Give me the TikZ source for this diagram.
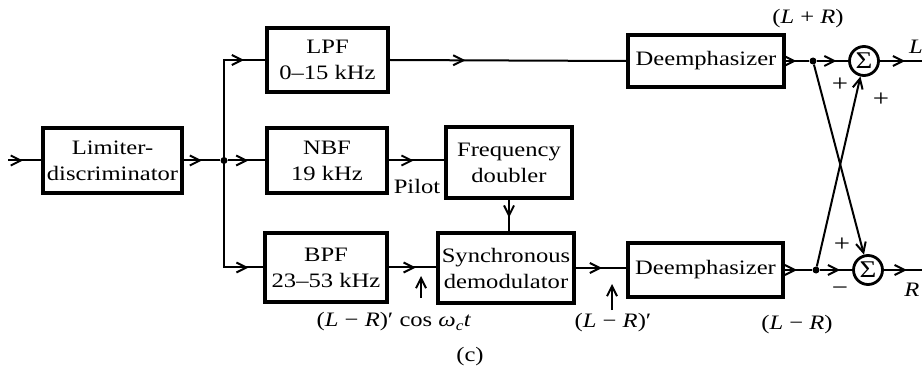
\documentclass[tikz,border=0pt]{standalone}
\usepackage{fontspec}
\setmainfont[FakeStretch=1.2]{Liberation Serif}
\usetikzlibrary{arrows.meta,decorations.markings}
\tikzset{
  blk/.style={draw, line width=3.4pt, align=center, inner sep=0pt,
    font=\fontsize{20.5}{26}\selectfont},
  sig/.style={draw, circle, line width=2.8pt, minimum size=29pt, inner sep=0pt,
    font=\fontsize{24}{26}\selectfont},
  jdot/.style={circle, fill, minimum size=7pt, inner sep=0pt},
  con/.style={line width=2pt},
  ar/.style={postaction={decorate, decoration={markings,
    mark=at position #1 with {\arrow{Straight Barb[length=10pt,width=10pt,line width=2pt]}}}}},
  lbl/.style={font=\fontsize{20.5}{23}\selectfont, inner sep=0pt},
  sgn/.style={font=\fontsize{24}{24}\selectfont, inner sep=0pt},
  endar/.style={-{Straight Barb[length=10pt,width=10pt,line width=2pt]}}
}
\begin{document}
\begin{tikzpicture}[x=1pt,y=-1pt]
\useasboundingbox (0,0) rectangle (923,371);
% blocks
\node[blk, minimum width=139pt, minimum height=65pt] (lim) at (112.5,160.5) {Limiter-\\discriminator};
\node[blk, minimum width=121pt, minimum height=64pt] (lpf) at (327.5,60) {LPF\\0–15 kHz};
\node[blk, minimum width=120pt, minimum height=65pt] (nbf) at (327,160.5) {NBF\\19 kHz};
\node[blk, minimum width=122pt, minimum height=69pt] (bpf) at (326,267.5) {BPF\\23–53 kHz};
\node[blk, minimum width=126pt, minimum height=71pt] (fd) at (509,162.5) {Frequency\\doubler};
\node[blk, minimum width=136pt, minimum height=70pt] (syn) at (506,268) {Synchronous\\demodulator};
\node[blk, minimum width=156pt, minimum height=52pt] (de1) at (706,61) {Deemphasizer};
\node[blk, minimum width=155pt, minimum height=54pt] (de2) at (705.5,270) {Deemphasizer};
\node[sig] (s1) at (864,61) {Σ};
\node[sig] (s2) at (868,270) {Σ};
\node[jdot] (j) at (224,160.5) {};
\node[jdot] (d1) at (813,61) {};
\node[jdot] (d2) at (816,270) {};
\coordinate (in) at (8,160.5);
\coordinate (lo) at (922,61);
\coordinate (ro) at (922,270);
\coordinate (a1s) at (421,298);
\coordinate (a1e) at (421,276);
\coordinate (a2s) at (612,310);
\coordinate (a2e) at (612,284);
% connectors
\draw[con, ar=0.45] (in) -- (lim.west);
\draw[con, ar=0.5] (lim.east) -- (j);
\draw[con, ar=0.85] (j.center) |- (lpf.west);
\draw[con, ar=0.55] (j) -- (nbf.west);
\draw[con, ar=0.9] (j.center) |- (bpf.west);
\draw[con, ar=0.32] (lpf.east) -- (de1.west);
\draw[con, ar=0.45] (nbf.east) -- (fd.west |- nbf.east);
\draw[con, ar=0.57] (fd.south) -- (fd.south |- syn.north);
\draw[con, ar=0.57] (bpf.east) -- (syn.west |- bpf.east);
\draw[con, ar=0.52] (syn.east) -- (de2.west |- syn.east);
\draw[con, ar=0.45] (de1.east) -- (d1);
\draw[con, ar=0.63] (d1) -- (s1);
\draw[con, ar=0.6] (s1) -- (lo);
\draw[con, ar=0.45] (de2.east) -- (d2);
\draw[con, ar=0.63] (d2) -- (s2);
\draw[con, ar=0.6] (s2) -- (ro);
\draw[con, endar] (d1) -- (s2);
\draw[con, endar] (d2) -- (s1);
\draw[con, endar] (a1s) -- (a1e);
\draw[con, endar] (a2s) -- (a2e);
% labels
\node[lbl] (pilot) at (417,186) {Pilot};
\node[lbl] (lpr) at (808,19) {(\textit{L} + \textit{R})};
\node[lbl] (lmr) at (797,325) {(\textit{L} − \textit{R})};
\node[lbl] (lmrc) at (394,322) {(\textit{L} − \textit{R})′ cos \textit{ω}\textsubscript{\textit{c}}\textit{t}};
\node[lbl] (lmrp) at (613,323) {(\textit{L} − \textit{R})′};
\node[lbl] (cap) at (470,357) {(c)};
\node[lbl] (Lo) at (916,47) {\textit{L}};
\node[lbl] (Ro) at (912,290) {\textit{R}};
\node[sgn] (p1) at (840,85) {+};
\node[sgn] (p2) at (881,100) {+};
\node[sgn] (p3) at (842,245) {+};
\node[sgn] (m1) at (840,291) {−};
\end{tikzpicture}
\end{document}
